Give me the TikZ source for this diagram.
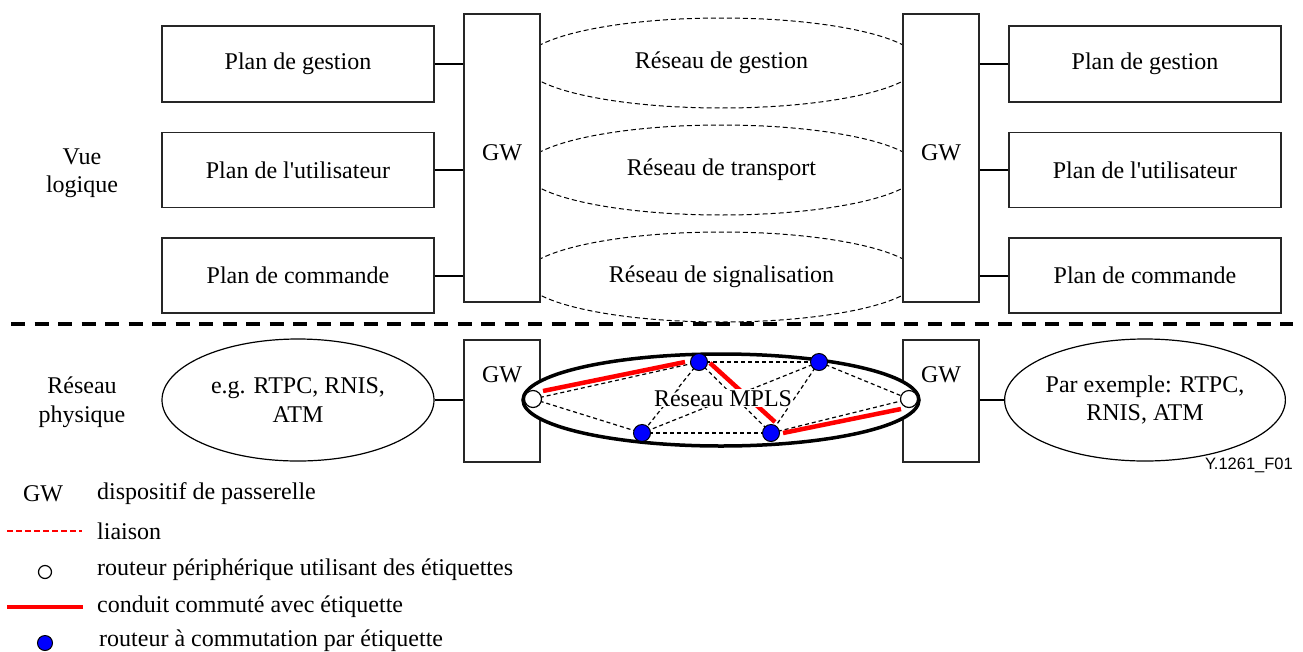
\documentclass[tikz,border=0pt]{standalone}
\usepackage{fontspec}
\setmainfont{Liberation Serif}
\newfontfamily\figsans{Liberation Sans}
\usetikzlibrary{shapes.geometric,calc}
\definecolor{pureblue}{RGB}{0,0,255}
\definecolor{purered}{RGB}{255,0,0}
\begin{document}
\begin{tikzpicture}[x=1pt,y=-1pt,
  every node/.style={font=\fontsize{24}{28.5}\selectfont},
  plan/.style={draw=black!85, line width=1.2pt, fill=white, minimum width=272pt, minimum height=75pt, inner sep=0pt},
  gwbox/.style={draw=black!85, line width=1.2pt, fill=white, minimum width=76pt, inner sep=0pt},
  cloud/.style={ellipse, draw, dash pattern=on 5pt off 3pt, line width=1pt, minimum width=396pt, minimum height=90pt, inner sep=0pt},
  netell/.style={ellipse, draw, line width=1.2pt, fill=white, minimum width=272pt, minimum height=122pt, inner sep=0pt, align=center},
  wire/.style={line width=2pt},
  ler/.style={circle, draw, line width=1.2pt, fill=white, minimum size=17pt, inner sep=0pt},
  lsr/.style={circle, draw, line width=1pt, fill=pureblue, minimum size=17pt, inner sep=0pt},
  mlink/.style={line width=1.2pt, dash pattern=on 4pt off 3pt},
  lsp/.style={line width=4.5pt, draw=purered},
  legtext/.style={anchor=west, inner sep=0pt}
]
\useasboundingbox (0,0) rectangle (1303,651);

% logical view: dashed networks
\node[cloud] (cg) at (721.5,63) {Réseau de gestion};
\node[cloud] (ct) at (721.5,170) {Réseau de transport};
\node[cloud] (cs) at (721.5,277) {Réseau de signalisation};

% gateways (logical)
\node[gwbox, minimum height=288pt] (gwl) at (502,158) {};
\node[gwbox, minimum height=288pt] (gwr) at (941,158) {};
\node (gwllab) at (502,153) {GW};
\node (gwrlab) at (941,153) {GW};

% planes
\node[plan, minimum height=76pt] (lp1) at (298,64) {Plan de gestion};
\node[plan] (lp2) at (298,170) {Plan de l\textquotesingle utilisateur};
\node[plan] (lp3) at (298,275.5) {Plan de commande};
\node[plan, minimum height=76pt] (rp1) at (1145,64) {Plan de gestion};
\node[plan] (rp2) at (1145,170) {Plan de l\textquotesingle utilisateur};
\node[plan] (rp3) at (1145,275.5) {Plan de commande};

\draw[wire] (lp1.east) -- (lp1.east -| gwl.west);
\draw[wire] (lp2.east) -- (lp2.east -| gwl.west);
\draw[wire] (lp3.east) -- (lp3.east -| gwl.west);
\draw[wire] (rp1.west) -- (rp1.west -| gwr.east);
\draw[wire] (rp2.west) -- (rp2.west -| gwr.east);
\draw[wire] (rp3.west) -- (rp3.west -| gwr.east);

\node[align=center] (vue) at (82,173) {Vue\\logique};

% separator
\coordinate (sepa) at (11,324);
\coordinate (sepb) at (1293,324);
\draw[line width=4pt, dash pattern=on 14pt off 9.5pt] (sepa) -- (sepb);

% physical network
\node[align=center] (phys) at (82,402) {Réseau\\physique};
\node[netell] (el) at (298,400) {e.g. RTPC, RNIS,\\ATM};
\node[netell] (er) at (1145,400) {Par exemple: RTPC,\\RNIS, ATM};
\node[gwbox, minimum height=122pt] (gwl2) at (502,401) {};
\node[gwbox, minimum height=122pt] (gwr2) at (941,401) {};
\node (gwl2lab) at (502,375) {GW};
\node (gwr2lab) at (941,375) {GW};
\draw[wire] (el.east) -- (el.east -| gwl2.west);
\draw[wire] (er.west) -- (er.west -| gwr2.east);

\node[ellipse, draw, line width=3.5pt, fill=white, minimum width=396pt, minimum height=92pt, inner sep=0pt] (mpls) at (721,400) {};

% routers positions
\coordinate (plerl) at (533,399);
\coordinate (plerr) at (909,399);
\coordinate (p1) at (699,362);
\coordinate (p2) at (819,362);
\coordinate (p3) at (642,433);
\coordinate (p4) at (771,433);

% links
\draw[mlink] (plerl) -- (p1);
\draw[mlink] (plerl) -- (p3);
\draw[mlink] (p1) -- (p2);
\draw[mlink] (p3) -- (p4);
\draw[mlink] (p1) -- (p3);
\draw[mlink] (p1) -- (p4);
\draw[mlink] (p2) -- (p3);
\draw[mlink] (p2) -- (p4);
\draw[mlink] (p2) -- (plerr);
\draw[mlink] (p4) -- (plerr);

% label switched paths
\draw[lsp] ($(plerl)+(10,-8)$) -- ($(p1)+(-14,0)$);
\draw[lsp] ($(p1)+(11,1)$) -- ($(p4)+(4,-11)$);
\draw[lsp] ($(p4)+(12,0)$) -- ($(plerr)+(-8,10)$);

\node[fill=white, inner sep=1pt] (mplslab) at (723,398) {Réseau MPLS};

\node[ler] (lerl) at (plerl) {};
\node[ler] (lerr) at (plerr) {};
\node[lsr] (lsr1) at (p1) {};
\node[lsr] (lsr2) at (p2) {};
\node[lsr] (lsr3) at (p3) {};
\node[lsr] (lsr4) at (p4) {};

\node[anchor=east, inner sep=0pt, font=\figsans\fontsize{16.5}{19}\selectfont] (fig) at (1293,465) {Y.1261\_F01};

% legend
\node (lgw) at (43,494) {GW};
\node[legtext] (t1) at (97,494) {dispositif de passerelle};
\coordinate (l2a) at (7,531);
\coordinate (l2b) at (82,531);
\draw[line width=1.2pt, draw=purered, dash pattern=on 6pt off 3pt] (l2a) -- (l2b);
\node[legtext] (t2) at (97,531) {liaison};
\node[circle, draw, line width=1.2pt, fill=white, minimum size=13pt, inner sep=0pt] (lc1) at (45,572) {};
\node[legtext] (t3) at (97,570) {routeur périphérique utilisant des étiquettes};
\coordinate (l4a) at (7,607);
\coordinate (l4b) at (83,607);
\draw[lsp] (l4a) -- (l4b);
\node[legtext] (t4) at (97,607) {conduit commuté avec étiquette};
\node[lsr, minimum size=15pt] (lc2) at (45,643) {};
\node[legtext] (t5) at (99,641) {routeur à commutation par étiquette};
\end{tikzpicture}
\end{document}
